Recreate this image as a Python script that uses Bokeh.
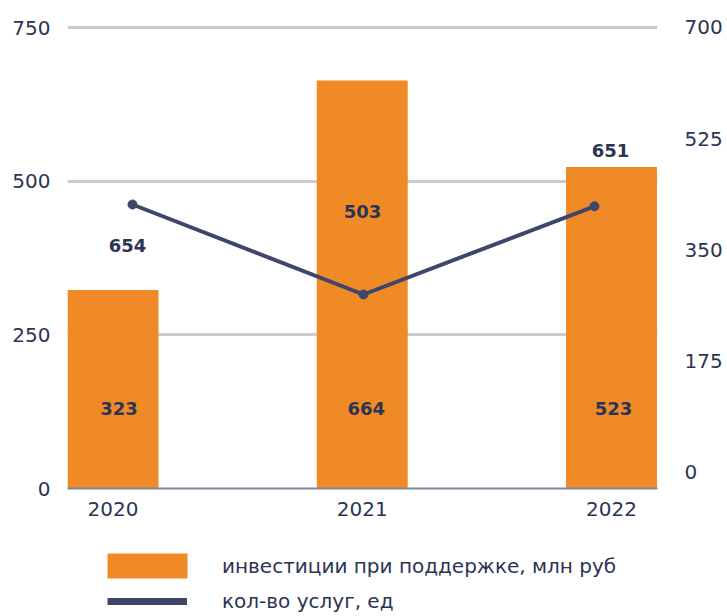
from bokeh.plotting import figure
from bokeh.layouts import column
from bokeh.models import (Range1d, LinearAxis, FixedTicker, ColumnDataSource,
                          Legend, LegendItem)
from bokeh.core.properties import value
from bokeh.embed import file_html
from bokeh.resources import INLINE

# ---- data ----
years = ["2020", "2021", "2022"]
investments = [323, 664, 523]          # инвестиции при поддержке, млн руб
services = [654, 503, 651]             # кол-во услуг, ед
left_ticks = [0, 250, 500, 750]
right_ticks = [0, 175, 350, 525, 700]
series_names = ["инвестиции при поддержке, млн руб", "кол-во услуг, ед"]

# ---- styles ----
ORANGE = "#F08A27"
NAVY = "#3E4769"
TEXT = "#2C3453"
GRID = "#C9CBD1"
BASE = "#7F8596"
FONT = "DejaVu Sans"

bar_label_dx = [6, 4, 2]
line_label_dx = [-5, -1, 16]
line_label_dy = [41, -83, -56]
BAR_LABEL_Y = 130

idx = list(range(len(years)))

p = figure(width=727, height=535, output_backend="svg", toolbar_location=None,
           x_range=Range1d(-0.1826, 2.1846), y_range=Range1d(0, 755),
           min_border_left=67, min_border_right=70, min_border_top=24,
           min_border_bottom=47, outline_line_color=None,
           background_fill_color="white", border_fill_color="white")
p.extra_x_ranges = {"line_x": Range1d(-0.2814, 2.2727)}
p.extra_y_ranges = {"right": Range1d(-25.2, 704.4), "line_y": Range1d(177.5, 956)}

# left axis
p.yaxis.ticker = FixedTicker(ticks=left_ticks)
p.yaxis.axis_line_color = None
p.yaxis.major_tick_line_color = None
p.yaxis.minor_tick_line_color = None
p.yaxis.major_label_standoff = 11
p.yaxis.major_label_text_font = FONT
p.yaxis.major_label_text_font_size = "20px"
p.yaxis.major_label_text_color = TEXT

p.ygrid.ticker = FixedTicker(ticks=left_ticks)
p.ygrid.grid_line_color = GRID
p.ygrid.grid_line_width = 3
p.xgrid.visible = False

# bottom axis
p.xaxis.ticker = FixedTicker(ticks=idx)
p.xaxis.major_label_overrides = {i: y for i, y in zip(idx, years)}
p.xaxis.axis_line_color = BASE
p.xaxis.axis_line_width = 2
p.xaxis.major_tick_line_color = None
p.xaxis.minor_tick_line_color = None
p.xaxis.major_label_standoff = 7
p.xaxis.major_label_text_font = FONT
p.xaxis.major_label_text_font_size = "20px"
p.xaxis.major_label_text_color = TEXT

# right axis
ax_r = LinearAxis(y_range_name="right", ticker=FixedTicker(ticks=right_ticks))
ax_r.axis_line_color = None
ax_r.major_tick_line_color = None
ax_r.minor_tick_line_color = None
ax_r.major_label_standoff = 21
ax_r.major_label_text_font = FONT
ax_r.major_label_text_font_size = "20px"
ax_r.major_label_text_color = TEXT
p.add_layout(ax_r, "right")

# bars
bar_src = ColumnDataSource(dict(x=idx, top=investments,
                                lbl=[str(v) for v in investments], dx=bar_label_dx))
p.vbar(x="x", top="top", width=0.365, source=bar_src,
       fill_color=ORANGE, line_color=None)
p.text(x="x", y=BAR_LABEL_Y, text="lbl", x_offset="dx", source=bar_src,
       text_align="center", text_baseline="middle", text_color=TEXT,
       text_font=value(FONT), text_font_style="bold", text_font_size="18px")

# line
line_src = ColumnDataSource(dict(x=idx, y=services,
                                 lbl=[str(v) for v in services],
                                 dx=line_label_dx, dy=line_label_dy))
p.line(x="x", y="y", source=line_src, x_range_name="line_x", y_range_name="line_y",
       line_color=NAVY, line_width=4)
p.scatter(x="x", y="y", source=line_src, x_range_name="line_x", y_range_name="line_y",
          size=9, fill_color=NAVY, line_color=NAVY)
p.text(x="x", y="y", text="lbl", x_offset="dx", y_offset="dy", source=line_src,
       x_range_name="line_x", y_range_name="line_y",
       text_align="center", text_baseline="middle", text_color=TEXT,
       text_font=value(FONT), text_font_style="bold", text_font_size="18px")

# ---- legend panel (separate figure below the chart) ----
lp = figure(width=727, height=78, output_backend="svg", toolbar_location=None,
            x_range=Range1d(0, 1), y_range=Range1d(0, 1),
            x_axis_type=None, y_axis_type=None, min_border=0,
            min_border_left=0, min_border_right=0, min_border_top=0,
            min_border_bottom=0, outline_line_color=None,
            background_fill_color="white", border_fill_color="white")
lp.xgrid.visible = False
lp.ygrid.visible = False
nan = float("nan")
key_bar = lp.vbar(x=[nan], top=[nan], width=1, fill_color=ORANGE, line_color=None)
key_line = lp.line(x=[nan], y=[nan], line_color=NAVY, line_width=7)

leg1 = Legend(items=[LegendItem(label=series_names[0], renderers=[key_bar])],
              location=(30, 32), glyph_width=100, glyph_height=31, label_standoff=25,
              padding=0, margin=0, spacing=0, border_line_alpha=0,
              background_fill_alpha=0, label_text_font=FONT,
              label_text_font_size="20px", label_text_color=TEXT)
leg2 = Legend(items=[LegendItem(label=series_names[1], renderers=[key_line])],
              location=(40, 0), glyph_width=80, glyph_height=12, label_standoff=35,
              label_height=12, padding=0, margin=0, spacing=0, border_line_alpha=0,
              background_fill_alpha=0, label_text_font=FONT,
              label_text_font_size="20px", label_text_color=TEXT)
lp.add_layout(leg1, "center")
lp.add_layout(leg2, "center")

layout = column(p, lp, spacing=0)
open("out.html", "w").write(file_html(layout, INLINE))
